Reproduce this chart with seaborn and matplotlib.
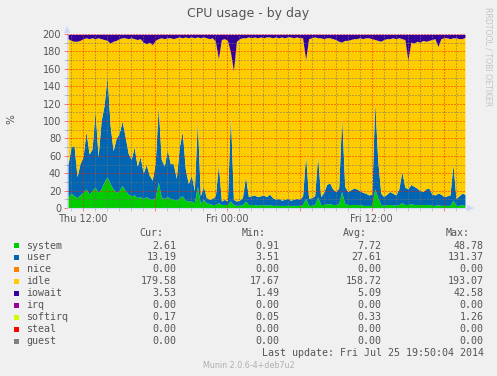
import numpy as np
import pandas as pd
import matplotlib
matplotlib.use("Agg")
import matplotlib.pyplot as plt
import matplotlib.dates as mdates
from matplotlib.ticker import MultipleLocator, FuncFormatter
from matplotlib.patches import Rectangle, Polygon
import seaborn as sns

W, H = 497, 376

# ---- data (15-minute samples, Thu 10:45 .. Fri 19:45) ----
system = [13, 17, 14, 12, 15, 18, 22, 16, 20, 24, 18,
          22, 30, 36, 28, 22, 18, 20, 26, 20, 16,
          14, 15, 12, 13, 11, 13, 11, 10, 12, 30,
          12, 11, 13, 11, 10, 9, 12, 14, 9, 8,
          8, 6, 25, 5, 10, 6, 5, 4, 4, 6,
          4, 4, 4, 8, 4, 3, 3, 4, 8, 4,
          4, 4, 3, 4, 4, 3, 4, 3, 3, 3,
          3, 3, 3, 3, 3, 3, 3, 4, 11, 3,
          3, 4, 13, 4, 4, 5, 5, 4, 4, 5,
          19, 5, 4, 4, 4, 4, 4, 3, 3, 3,
          3, 22, 12, 4, 3, 4, 4, 4, 3, 4,
          6, 4, 4, 5, 4, 4, 4, 4, 4, 4,
          3, 3, 4, 3, 3, 3, 3, 9, 3, 3, 4, 2.61]
user = [37, 53, 58, 24, 36, 41, 66, 46, 48, 88, 41,
        78, 88, 116, 67, 44, 62, 66, 74, 62, 47,
        42, 55, 36, 46, 29, 37, 27, 22, 40, 87,
        44, 37, 54, 40, 41, 25, 58, 74, 36, 20,
        30, 14, 76, 9, 15, 6, 5, 7, 10, 44,
        4, 6, 4, 100, 6, 5, 6, 8, 28, 9,
        10, 11, 10, 10, 11, 10, 12, 9, 7, 8,
        6, 7, 8, 6, 7, 8, 7, 10, 50, 8,
        9, 10, 47, 9, 14, 22, 24, 18, 15, 18,
        86, 20, 15, 17, 19, 18, 16, 15, 14, 12,
        13, 100, 42, 13, 10, 12, 15, 13, 12, 18,
        36, 20, 18, 22, 21, 19, 16, 15, 18, 19,
        13, 12, 13, 13, 10, 11, 12, 41, 8, 11, 13, 13.19]
iowait = [5, 7, 8, 8, 7, 5, 4, 5, 4, 5, 4,
          5, 6, 7, 10, 8, 7, 5, 4, 4, 5,
          4, 5, 6, 5, 9, 11, 9, 12, 7, 5,
          4, 5, 4, 4, 5, 4, 3, 4, 3, 4,
          3, 4, 3, 4, 3, 4, 5, 4, 8, 28,
          6, 5, 7, 20, 42, 8, 5, 4, 4, 3,
          4, 3, 4, 3, 4, 3, 3, 4, 3, 4,
          3, 4, 3, 3, 4, 3, 4, 4, 29, 5,
          4, 3, 4, 4, 5, 4, 4, 5, 6, 8,
          9, 7, 7, 6, 5, 5, 4, 5, 4, 4,
          5, 6, 7, 8, 6, 5, 5, 4, 5, 4,
          5, 6, 30, 9, 10, 8, 9, 7, 8, 7,
          6, 5, 14, 5, 4, 4, 5, 4, 4, 5, 5, 3.53]
softirq_level = 0.33
capacity = 200  # 2 CPUs

start_time = "2014-07-24 10:45"
view_start = "2014-07-24 10:40"
view_end = "2014-07-25 19:50"

legend_names = ["system", "user", "nice", "idle", "iowait", "irq", "softirq", "steal", "guest"]
legend_colors = ["#00CC00", "#0066B3", "#FF8000", "#FFCC00", "#330099",
                 "#990099", "#CCFF00", "#FF0000", "#808080"]
cur_vals = ["2.61", "13.19", "0.00", "179.58", "3.53", "0.00", "0.17", "0.00", "0.00"]
min_vals = ["0.91", "3.51", "0.00", "17.67", "1.49", "0.00", "0.05", "0.00", "0.00"]
avg_vals = ["7.72", "27.61", "0.00", "158.72", "5.09", "0.00", "0.33", "0.00", "0.00"]
max_vals = ["48.78", "131.37", "0.00", "193.07", "42.58", "0.00", "1.26", "0.00", "0.00"]

# ---- build ----
n = min(len(system), len(user), len(iowait))
sys_a = np.array(system[:n], float)
usr_a = np.array(user[:n], float)
iow_a = np.array(iowait[:n], float)
soft_a = np.full(n, softirq_level)
idle_a = capacity - (sys_a + usr_a + iow_a + soft_a)
times = pd.date_range(start_time, periods=n, freq="15min")
tnum = mdates.date2num(times.to_pydatetime())

sns.set_theme(style="white")
plt.rcParams["font.family"] = ["DejaVu Sans"]
TXT = "#555555"

fig = plt.figure(figsize=(W / 100, H / 100), dpi=100, facecolor="#F0F0F0")
ax = fig.add_axes([67 / W, 1 - 208 / H, 399 / W, 174 / H])
ax.set_facecolor("white")

ax.stackplot(tnum, sys_a, usr_a, idle_a, iow_a, soft_a,
             colors=["#00CC00", "#0066B3", "#FFCC00", "#330099", "#CCFF00"],
             linewidth=0)

ax.set_xlim(mdates.date2num(pd.Timestamp(view_start)), mdates.date2num(pd.Timestamp(view_end)))
ax.set_ylim(0, 200)
ax.xaxis_date()
ax.xaxis.set_major_locator(mdates.HourLocator(byhour=[0, 6, 12, 18]))
ax.xaxis.set_minor_locator(mdates.HourLocator())


def xfmt(x, pos):
    d = mdates.num2date(x)
    return d.strftime("%a %H:%M") if d.hour in (0, 12) else ""


ax.xaxis.set_major_formatter(FuncFormatter(xfmt))
ax.yaxis.set_major_locator(MultipleLocator(20))
ax.yaxis.set_minor_locator(MultipleLocator(10))

ax.set_axisbelow(False)
ax.grid(True, which="major", color=(1, 0.1, 0.0, 0.2), linestyle=(0, (1, 2)), linewidth=0.72)
ax.grid(True, which="minor", color=(0.45, 0.45, 0.45, 0.22), linestyle=(0, (1, 2)), linewidth=0.72)

ax.tick_params(which="major", length=2, width=0.72, color=(1, 0.2, 0.2, 0.6),
               direction="out", labelsize=7, labelcolor=TXT, pad=2.2)
ax.tick_params(which="minor", length=2, width=0.72, color=(0.6, 0.6, 0.6, 0.5), direction="out")
ax.tick_params(axis="x", which="both", bottom=True)
ax.tick_params(axis="y", which="both", left=True)

for s in ["top", "right"]:
    ax.spines[s].set_visible(False)
for s in ["left", "bottom"]:
    ax.spines[s].set_color("#CFD6F8")
    ax.spines[s].set_linewidth(0.8)


def fx(x):
    return x / W


def fy(y):
    return 1 - y / H


# arrows
fig.add_artist(Polygon([(fx(67), fy(26)), (fx(64), fy(33)), (fx(70.5), fy(33))],
                       closed=True, transform=fig.transFigure, facecolor="#CFD6F8", edgecolor="none"))
fig.add_artist(Polygon([(fx(474), fy(208)), (fx(467), fy(204.5)), (fx(467), fy(211.5))],
                       closed=True, transform=fig.transFigure, facecolor="#CFD6F8", edgecolor="none"))

# texts
fig.text(fx(248.5), fy(13.5), "CPU usage - by day", ha="center", va="center", fontsize=9, color=TXT)
fig.text(fx(11), fy(119.5), "%", ha="center", va="center", rotation=90, fontsize=7.5, color=TXT)
fig.text(fx(488), fy(57), "RRDTOOL / TOBI OETIKER", ha="center", va="center", rotation=270,
         fontsize=5.6, color="#C4C4C4")

mono = "DejaVu Sans Mono"
LFS = 7.2
hy = 233.5
for label, xr in zip(["Cur:", "Min:", "Avg:", "Max:"], [163, 266, 367, 469.5]):
    fig.text(fx(xr), fy(hy), label, ha="right", va="center", family=mono, fontsize=LFS, color=TXT)

for k, name in enumerate(legend_names):
    y = 245.5 + 12 * k
    fig.add_artist(Rectangle((fx(14), fy(y + 2.5)), 5 / W, 5 / H, transform=fig.transFigure,
                             facecolor=legend_colors[k], edgecolor="none"))
    fig.text(fx(26.5), fy(y), name, ha="left", va="center", family=mono, fontsize=LFS, color=TXT)
    for vals, xr in zip([cur_vals, min_vals, avg_vals, max_vals], [176.5, 279.5, 381.5, 483.5]):
        fig.text(fx(xr), fy(y), vals[k], ha="right", va="center", family=mono, fontsize=LFS, color=TXT)

fig.text(fx(483.5), fy(353.5), "Last update: Fri Jul 25 19:50:04 2014", ha="right", va="center",
         family=mono, fontsize=LFS, color=TXT)
fig.text(fx(249), fy(366), "Munin 2.0.6-4+deb7u2", ha="center", va="center", fontsize=5.8, color="#B0B0B0")

fig.savefig("out.png", dpi=100, facecolor=fig.get_facecolor())
